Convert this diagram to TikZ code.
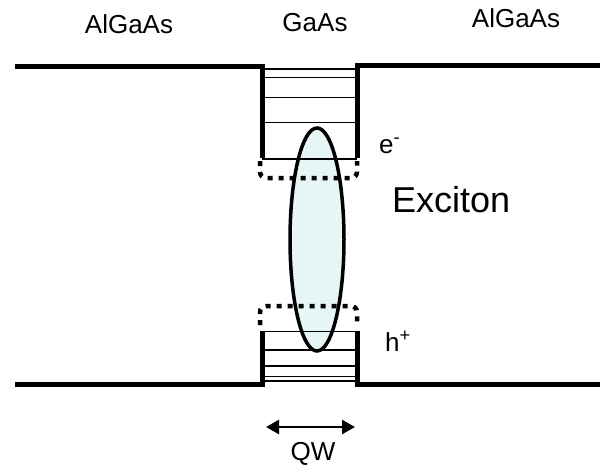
\documentclass[tikz,border=0pt]{standalone}
\usepackage{fontspec}
\setmainfont{Liberation Sans}
\usetikzlibrary{arrows.meta}
\definecolor{excfill}{RGB}{230,245,245}
\begin{document}
\begin{tikzpicture}[x=1pt,y=-1pt,
  band/.style={line width=5pt},
  level/.style={line width=1.3pt},
  dotbox/.style={line width=4.5pt, dash pattern=on 5pt off 6pt, rounded corners=6pt},
  lbl/.style={inner sep=0pt, font=\fontsize{26}{30}\selectfont},
  big/.style={inner sep=0pt, font=\fontsize{36}{42}\selectfont},
  exc/.style={line width=3.5pt}]
\useasboundingbox (0,0) rectangle (600,464);
% exciton fill
\fill[excfill] (317,239.5) ellipse [x radius=27pt, y radius=111.5pt];
% quantized levels, conduction band
\foreach \yy in {69,77.7,97.7,122.3,159}
  \draw[level] (262,\yy) -- (357,\yy);
% quantized levels, valence band
\foreach \yy in {331.7,350,366,376.7,381}
  \draw[level] (262,\yy) -- (357,\yy);
% dotted extensions
\draw[dotbox] (260,161) -- (260,178) -- (357,178) -- (357,161);
\draw[dotbox] (260,325) -- (260,306) -- (357,306) -- (357,325);
% exciton outline
\draw[exc] (317,239.5) ellipse [x radius=27pt, y radius=111.5pt];
% band edges
\draw[band] (15,66.5) -- (262,66.5) -- (262,158);
\draw[band] (357,158) -- (357,65.5) -- (600,65.5);
\draw[band] (15,384) -- (262,384) -- (262,331);
\draw[band] (357,331) -- (357,384.5) -- (600,384.5);
% QW arrow
\coordinate (qa) at (266,427);
\coordinate (qb) at (355,427);
\draw[line width=2.5pt, {Triangle[length=13pt,width=14pt]}-{Triangle[length=13pt,width=14pt]}] (qa) -- (qb);
% labels
\node[lbl, anchor=base] (l1) at (129,33) {AlGaAs};
\node[lbl, anchor=base] (l2) at (315,31) {GaAs};
\node[lbl, anchor=base] (l3) at (516,27) {AlGaAs};
\node[lbl, anchor=base west] (le) at (379,153) {e\textsuperscript{-}};
\node[big, anchor=base west] (lx) at (392,212) {Exciton};
\node[lbl, anchor=base west] (lh) at (385,351) {h\textsuperscript{+}};
\node[lbl, anchor=base] (lq) at (313,460) {QW};
\end{tikzpicture}
\end{document}
